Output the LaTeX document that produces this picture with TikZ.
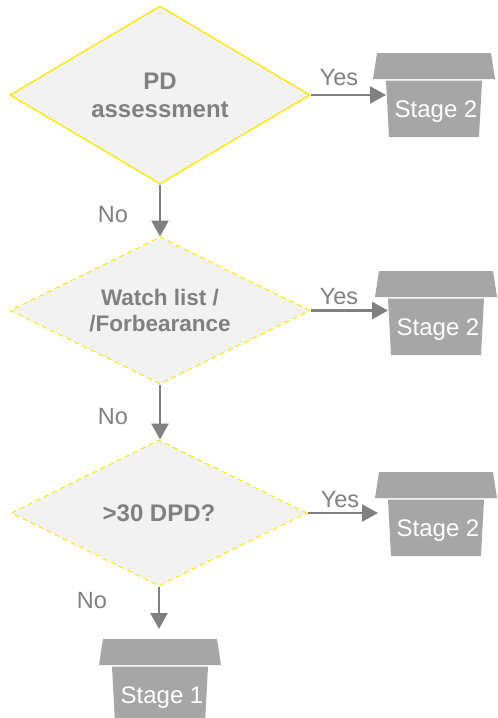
\documentclass[tikz,border=0pt]{standalone}
\usepackage{fontspec}
\setmainfont{Liberation Sans}
\usetikzlibrary{shapes.geometric,arrows.meta}
\definecolor{eyy}{HTML}{FFE600}
\definecolor{txtg}{HTML}{808080}
\definecolor{boxg}{HTML}{A6A6A6}
\definecolor{dfill}{HTML}{F2F2F2}
\begin{document}
\begin{tikzpicture}[x=1pt,y=-1pt,
 dec/.style={diamond, aspect=2, fill=dfill, draw=eyy, line width=1.3pt, inner sep=0pt, text=txtg, font=\bfseries\fontsize{24}{29}\selectfont, align=center},
 dashdec/.style={dec, dash pattern=on 5pt off 4pt, line width=1pt},
 arr/.style={draw=txtg, line width=2.5pt, -{Triangle[width=17pt,length=16pt]}},
 lbl/.style={text=txtg, font=\fontsize{23.5}{26}\selectfont, inner sep=0pt},
 stagebox/.pic={
   \fill[boxg] (-61,0) -- (-57,-26) -- (57,-26) -- (61,0) -- cycle;
   \fill[boxg] (-48,1.5) -- (48,1.5) -- (45,58) -- (-45,58) -- cycle;
   \coordinate (-in) at (-48,30);
   \coordinate (-top) at (0,-26);
   \node[text=white, font=\fontsize{24}{26}\selectfont, inner sep=0pt] (-t) at (2,33) {#1};
 }]
\useasboundingbox (0,0) rectangle (498,718);

\node[dec, minimum width=300pt, minimum height=178pt] (d1) at (160,95) {PD\\[-1pt]assessment};
\node[dashdec, minimum width=300pt, minimum height=147pt, font=\bfseries\fontsize{22.5}{26}\selectfont] (d2) at (160,310.5) {Watch list /\\/Forbearance};
\node[dashdec, minimum width=296pt, minimum height=146pt] (d3) at (159,513) {{>}30 DPD?};

\pic (sA) at (434,79) {stagebox=Stage 2};
\pic (sB) at (436,297) {stagebox=Stage 2};
\pic (sC) at (436,498) {stagebox=Stage 2};
\pic (s1) at (160,665) {stagebox=Stage 1};

\draw[arr] (d1.south) -- (d2.north);
\draw[arr] (d2.south) -- (d2.south |- d3.north);
\draw[arr, shorten >=10pt] (d3.south) -- (d3.south |- s1-top);

\draw[arr] (d1.east) -- (d1.east -| sA-in);
\draw[arr] (d2.east) -- (d2.east -| sB-in);
\draw[arr, shorten >=10pt] (d3.east) -- (d3.east -| sC-in);

\node[lbl] (n1) at (113,215) {No};
\node[lbl] (n2) at (113,417) {No};
\node[lbl] (n3) at (92,601) {No};
\node[lbl] (y1) at (339,78) {Yes};
\node[lbl] (y2) at (339,297) {Yes};
\node[lbl] (y3) at (340,500) {Yes};
\end{tikzpicture}
\end{document}
